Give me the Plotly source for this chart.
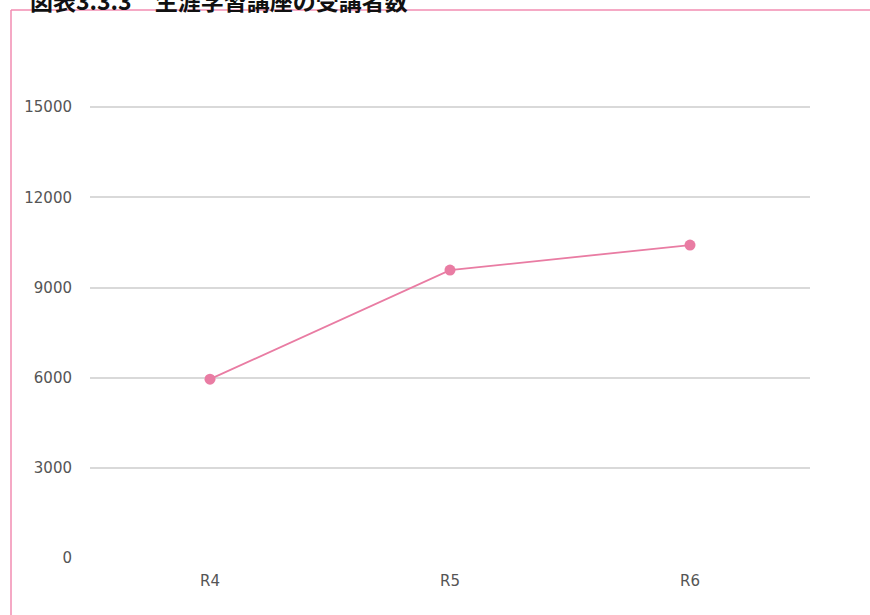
import plotly.graph_objects as go

categories = ["R4", "R5", "R6"]
values = [5950, 9580, 10410]
y_ticks = [0, 3000, 6000, 9000, 12000, 15000]
title_text = "<b>図表3.3.3　生涯学習講座の受講者数</b>"

pink = "#e97ca3"

fig = go.Figure()
fig.add_trace(go.Scatter(
    x=categories, y=values, mode="lines+markers",
    line=dict(color=pink, width=1.8),
    marker=dict(color=pink, size=11),
    showlegend=False, hoverinfo="x+y",
))

L, R, T, B = 90, 60, 17, 57
W, H = 870, 615
pw = W - L - R
ph = H - T - B

def px_x(x):
    return (x - L) / pw

def px_y(y):
    return (H - B - y) / ph

tick_font = dict(family="DejaVu Sans, Verdana, sans-serif", size=15, color="#555555")

fig.update_layout(
    width=W, height=H,
    margin=dict(l=L, r=R, t=T, b=B),
    paper_bgcolor="white", plot_bgcolor="white",
    font=tick_font,
    xaxis=dict(type="category", range=[-0.5, 2.5], showgrid=False, showline=False,
               zeroline=False, ticks="", tickfont=tick_font,
               ticklabelstandoff=12),
    yaxis=dict(range=[0, 18000], tickvals=y_ticks, tickformat="d", showgrid=True,
               gridcolor="#d9d9d9", gridwidth=1.5, zeroline=False, showline=False,
               ticks="", tickfont=tick_font, ticklabelstandoff=17),
    shapes=[
        dict(type="line", xref="paper", yref="paper", x0=px_x(11), x1=px_x(875),
             y0=px_y(10), y1=px_y(10), line=dict(color="#f28db2", width=1.5)),
        dict(type="line", xref="paper", yref="paper", x0=px_x(11), x1=px_x(11),
             y0=px_y(10), y1=px_y(620), line=dict(color="#f28db2", width=1.5)),
    ],
    annotations=[
        dict(text=title_text, xref="paper", yref="paper", x=px_x(28), y=px_y(19),
             xanchor="left", yanchor="bottom", showarrow=False,
             font=dict(size=23, color="#111111", family="Noto Sans CJK JP"))
    ],
)

fig.write_html("out.html", config={"displayModeBar": False},
               post_script="document.body.style.margin='0';")
